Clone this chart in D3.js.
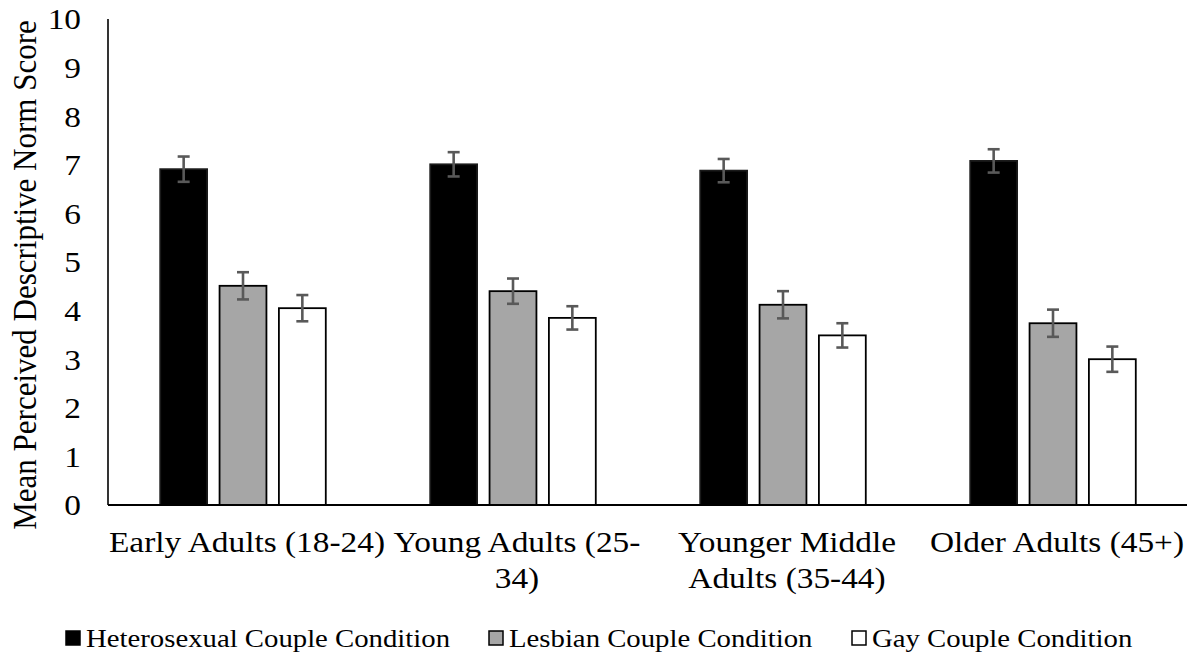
<!DOCTYPE html>
<html>
<head>
<meta charset="utf-8">
<script src="https://cdn.jsdelivr.net/npm/d3@7"></script>
<style>
  html, body { margin: 0; padding: 0; background: #fff; }
  svg { display: block; }
  text { font-family: "Liberation Serif", "Times New Roman", serif; fill: #000; }
</style>
</head>
<body>
<svg id="chart" width="1187" height="657"></svg>
<script>
const categories = ["Early Adults (18-24)", "Young Adults (25-34)", "Younger Middle Adults (35-44)", "Older Adults (45+)"];
const categoryLines = [["Early Adults (18-24)"], ["Young Adults (25-", "34)"], ["Younger Middle", "Adults (35-44)"], ["Older Adults (45+)"]];
const series = ["Heterosexual Couple Condition", "Lesbian Couple Condition", "Gay Couple Condition"];
const heteroValues = [6.91, 7.01, 6.88, 7.08];
const lesbianValues = [4.51, 4.40, 4.12, 3.74];
const gayValues = [4.05, 3.85, 3.49, 3.00];
const heteroErr = [0.26, 0.25, 0.24, 0.24];
const lesbianErr = [0.28, 0.26, 0.28, 0.28];
const gayErr = [0.27, 0.24, 0.25, 0.26];
const yTicks = [0, 1, 2, 3, 4, 5, 6, 7, 8, 9, 10];
const yTitle = "Mean Perceived Descriptive Norm Score";

const fills = ["#000000", "#a6a6a6", "#ffffff"];
const values = [heteroValues, lesbianValues, gayValues];
const errs = [heteroErr, lesbianErr, gayErr];

const SX = 1.15; // horizontal stretch of the text in the reference

const svg = d3.select("#chart");
const mLeft = 108, mRight = 1188, mTop = 19, mBottom = 505;

const x0 = d3.scaleBand().domain(categories).range([mLeft, mRight]).paddingInner(0).paddingOuter(0);
const x1 = d3.scaleBand().domain(series).range([0, x0.bandwidth()]).paddingInner(0.21).paddingOuter(0.88);
const y = d3.scaleLinear().domain([0, 10]).range([mBottom, mTop]);

const data = [];
categories.forEach((c, i) => series.forEach((s, j) => {
  data.push({c, s, j, v: values[j][i], e: errs[j][i]});
}));

// bars
svg.append("g").selectAll("rect").data(data).enter().append("rect")
  .attr("x", d => x0(d.c) + x1(d.s))
  .attr("y", d => y(d.v))
  .attr("width", x1.bandwidth())
  .attr("height", d => y(0) - y(d.v))
  .attr("fill", d => fills[d.j])
  .attr("stroke", d => d.j === 0 ? "#1a1a1a" : "#000")
  .attr("stroke-width", 1.8);

// error bars
const eg = svg.append("g").attr("stroke", "#595959").attr("stroke-width", 2.6).attr("fill", "none");
data.forEach(d => {
  const cx = x0(d.c) + x1(d.s) + x1.bandwidth() / 2;
  const y1 = y(d.v + d.e), y2 = y(d.v - d.e);
  eg.append("line").attr("x1", cx).attr("x2", cx).attr("y1", y1).attr("y2", y2);
  eg.append("line").attr("x1", cx - 6).attr("x2", cx + 6).attr("y1", y1).attr("y2", y1);
  eg.append("line").attr("x1", cx - 6).attr("x2", cx + 6).attr("y1", y2).attr("y2", y2);
});

// y axis
const yAxis = d3.axisLeft(y).tickValues(yTicks).tickSize(0).tickPadding(27).tickFormat(d3.format("d"));
const yg = svg.append("g").attr("transform", `translate(${mLeft},0)`).call(yAxis);
yg.select(".domain").attr("stroke", "#000").attr("stroke-width", 1.6).attr("d", `M0,${mTop}V${mBottom}`);
yg.selectAll("text")
  .attr("font-size", 29).attr("font-family", "Liberation Serif").attr("dy", "0.34em")
  .attr("x", -27 / SX).attr("transform", `scale(${SX},1)`);

// x axis
const xAxis = d3.axisBottom(x0).tickSize(0).tickFormat("");
const xg = svg.append("g").attr("transform", `translate(0,${mBottom})`).call(xAxis);
xg.select(".domain").attr("stroke", "#000").attr("stroke-width", 2).attr("d", `M${mLeft},0H${mRight}`);
categories.forEach((c, i) => {
  const cx = x0(c) + x0.bandwidth() / 2 + 4;
  const t = svg.append("text").attr("text-anchor", "middle").attr("font-size", 29)
    .attr("transform", `translate(${cx},0) scale(${SX},1)`);
  categoryLines[i].forEach((ln, k) => {
    t.append("tspan").attr("x", 0).attr("y", 552 + k * 36).text(ln);
  });
});

// y title
svg.append("text").attr("text-anchor", "middle")
  .attr("transform", `translate(36,275) scale(1.07,1) rotate(-90)`)
  .attr("font-size", 31).text(yTitle);

// legend
const legX = [66, 489, 852];
const lg = svg.append("g");
series.forEach((s, j) => {
  lg.append("rect").attr("x", legX[j]).attr("y", 631).attr("width", 14).attr("height", 14)
    .attr("fill", fills[j]).attr("stroke", "#000").attr("stroke-width", 1.5);
  lg.append("text").attr("transform", `translate(${legX[j] + 20},647) scale(${SX},1)`)
    .attr("font-size", 25).text(s);
});
</script>
</body>
</html>
